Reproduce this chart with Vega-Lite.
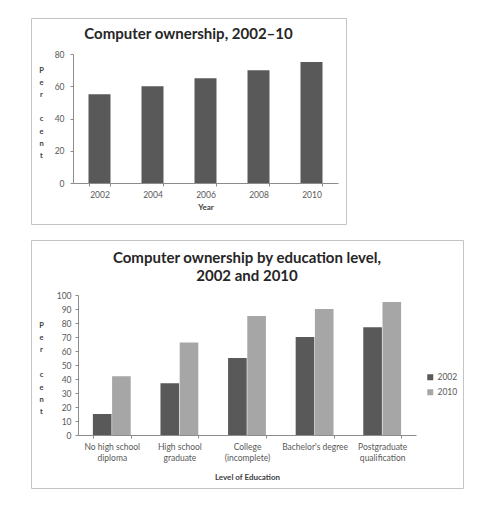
{
  "$schema": "https://vega.github.io/schema/vega-lite/v6.json",
  "background": "white",
  "padding": {"left": 30, "top": 17, "right": 0, "bottom": 0},
  "spacing": 14,
  "resolve": {"scale": {"color": "independent"}, "legend": {"color": "independent"}},
  "config": {
    "view": {"stroke": "#c4c4c4", "strokeWidth": 1},
    "font": "Lato",
    "axis": {
      "grid": false,
      "domainColor": "#8c8c8c",
      "tickColor": "#8c8c8c",
      "tickSize": 3,
      "labelColor": "#595959",
      "labelFont": "Lato",
      "labelFontSize": 8.5,
      "titleFont": "Lato",
      "titleFontWeight": "bold",
      "titleColor": "#404040",
      "titleFontSize": 8
    },
    "title": {"font": "Lato", "fontWeight": "bold", "color": "#262626", "anchor": "middle", "frame": "group"}
  },
  "vconcat": [
    {
      "width": 315,
      "height": 206,
      "title": {"text": "Computer ownership, 2002–10", "fontSize": 15, "offset": -24},
      "data": {"values": [
        {"year": "2002", "percent": 55},
        {"year": "2004", "percent": 60},
        {"year": "2006", "percent": 65},
        {"year": "2008", "percent": 70},
        {"year": "2010", "percent": 75}
      ]},
      "mark": {"type": "bar", "color": "#595959"},
      "encoding": {
        "x": {
          "field": "year", "type": "ordinal",
          "scale": {"range": [42, 307], "paddingInner": 0.585, "paddingOuter": 0.2925},
          "axis": {"title": "Year", "offset": -41, "labelAngle": 0, "tickBand": "extent", "labelPadding": 4, "titlePadding": 5}
        },
        "y": {
          "field": "percent", "type": "quantitative",
          "scale": {"domain": [0, 80], "range": [165, 36], "nice": false, "zero": true},
          "axis": {
            "values": [0, 20, 40, 60, 80], "offset": -42, "labelPadding": 6,
            "title": ["P", "e", "r", "\u200b", "c", "e", "n", "t"],
            "titleAngle": 0, "titleX": -32, "titleY": 48, "titleAlign": "center", "titleBaseline": "top",
            "titleFontSize": 7.5, "titleLineHeight": 12.2
          }
        }
      }
    },
    {
      "width": 432,
      "height": 248,
      "title": {"text": ["Computer ownership by education level,", "2002 and 2010"], "fontSize": 15, "lineHeight": 18, "offset": -44},
      "data": {"values": [
        {"level": "No high school diploma", "year": "2002", "percent": 15},
        {"level": "No high school diploma", "year": "2010", "percent": 42},
        {"level": "High school graduate", "year": "2002", "percent": 37},
        {"level": "High school graduate", "year": "2010", "percent": 66},
        {"level": "College (incomplete)", "year": "2002", "percent": 55},
        {"level": "College (incomplete)", "year": "2010", "percent": 85},
        {"level": "Bachelor's degree", "year": "2002", "percent": 70},
        {"level": "Bachelor's degree", "year": "2010", "percent": 90},
        {"level": "Postgraduate qualification", "year": "2002", "percent": 77},
        {"level": "Postgraduate qualification", "year": "2010", "percent": 95}
      ]},
      "mark": {"type": "bar"},
      "encoding": {
        "x": {
          "field": "level", "type": "nominal", "sort": null,
          "scale": {"range": [47, 385], "paddingInner": 0.44, "paddingOuter": 0.22},
          "axis": {
            "title": "Level of Education", "offset": -53, "labelAngle": 0, "tickBand": "extent",
            "labelPadding": 4, "titlePadding": 12, "labelLineHeight": 11,
            "labelExpr": "datum.label == 'No high school diploma' ? ['No high school', 'diploma'] : datum.label == 'High school graduate' ? ['High school', 'graduate'] : datum.label == 'College (incomplete)' ? ['College', '(incomplete)'] : datum.label == 'Postgraduate qualification' ? ['Postgraduate', 'qualification'] : datum.label"
          }
        },
        "xOffset": {"field": "year", "type": "nominal", "scale": {"paddingInner": 0.03}},
        "y": {
          "field": "percent", "type": "quantitative",
          "scale": {"domain": [0, 100], "range": [195, 55], "nice": false},
          "axis": {
            "values": [0, 10, 20, 30, 40, 50, 60, 70, 80, 90, 100], "offset": -47, "labelPadding": 4,
            "title": ["P", "e", "r", "\u200b", "c", "e", "n", "t"],
            "titleAngle": 0, "titleX": -37, "titleY": 81, "titleAlign": "center", "titleBaseline": "top",
            "titleFontSize": 7.5, "titleLineHeight": 12.4
          }
        },
        "color": {
          "field": "year", "type": "nominal",
          "scale": {"domain": ["2002", "2010"], "range": ["#595959", "#a6a6a6"]},
          "legend": {
            "title": null, "orient": "none", "legendX": 395, "legendY": 133,
            "symbolType": "square", "symbolSize": 36, "symbolStrokeWidth": 0,
            "labelFontSize": 8.5, "labelColor": "#595959", "labelFont": "Lato", "rowPadding": 6, "labelOffset": 3
          }
        }
      }
    }
  ]
}
